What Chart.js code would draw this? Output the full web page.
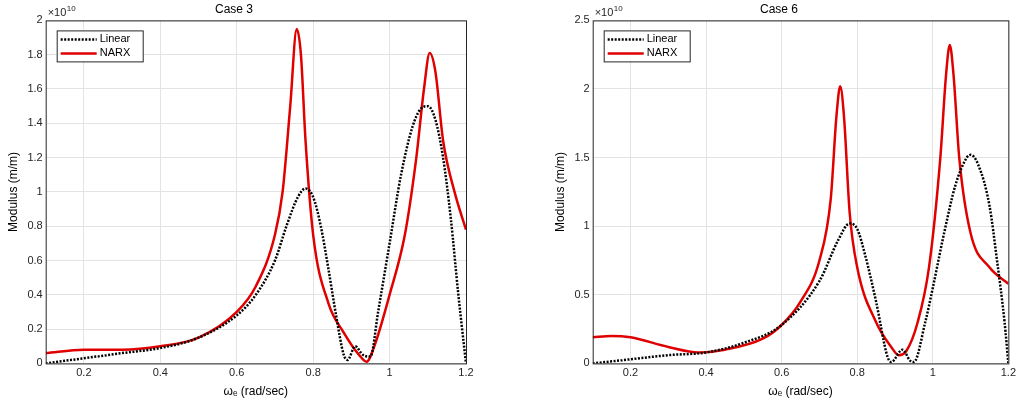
<!DOCTYPE html><html><head><script src="https://cdn.jsdelivr.net/npm/chart.js"></script>
<style>body{margin:0;background:#fff;width:1019px;height:413px;position:relative;overflow:hidden}
.c{position:absolute;top:0;height:413px}</style></head><body>
<div class="c" style="left:0;width:490px"><canvas id="a"></canvas></div>
<div class="c" style="left:540px;width:479px"><canvas id="b"></canvas></div>
<script>
const linear3=[[0.1,0],[0.2,0.03],[0.3,0.06],[0.4,0.09],[0.5,0.15],[0.6,0.28],[0.65,0.4],[0.7,0.6],[0.73,0.8],[0.76,0.97],[0.78,1.02],[0.8,0.97],[0.82,0.8],[0.84,0.55],[0.86,0.28],[0.88,0.05],[0.89,0.02],[0.91,0.1],[0.93,0.05],[0.95,0.04],[0.97,0.3],[1.0,0.7],[1.03,1.1],[1.06,1.38],[1.08,1.48],[1.1,1.5],[1.12,1.42],[1.14,1.2],[1.16,0.85],[1.18,0.4],[1.2,0]];
const narx3=[[0.1,0.06],[0.2,0.08],[0.3,0.08],[0.4,0.1],[0.5,0.15],[0.6,0.3],[0.65,0.45],[0.7,0.75],[0.72,1.0],[0.74,1.5],[0.757,1.95],[0.768,1.8],[0.78,1.3],[0.8,0.75],[0.84,0.35],[0.88,0.18],[0.92,0.05],[0.94,0.01],[0.96,0.1],[1.0,0.4],[1.04,0.75],[1.07,1.2],[1.09,1.6],[1.105,1.81],[1.12,1.7],[1.14,1.3],[1.17,1.0],[1.2,0.78]];
const linear6=[[0.1,0],[0.2,0.03],[0.3,0.06],[0.4,0.08],[0.5,0.15],[0.6,0.28],[0.7,0.6],[0.75,0.9],[0.78,1.02],[0.8,0.98],[0.82,0.8],[0.85,0.45],[0.88,0.05],[0.89,0.01],[0.92,0.1],[0.94,0.02],[0.95,0.01],[0.98,0.3],[1.0,0.55],[1.03,0.95],[1.06,1.3],[1.09,1.5],[1.1,1.52],[1.12,1.45],[1.15,1.15],[1.17,0.75],[1.19,0.3],[1.2,0]];
const narx6=[[0.1,0.19],[0.15,0.2],[0.2,0.19],[0.3,0.12],[0.38,0.08],[0.45,0.1],[0.55,0.18],[0.6,0.28],[0.65,0.45],[0.7,0.75],[0.73,1.2],[0.745,1.8],[0.755,2.02],[0.765,1.8],[0.78,1.1],[0.8,0.7],[0.85,0.3],[0.89,0.12],[0.91,0.06],[0.93,0.09],[0.96,0.3],[0.99,0.7],[1.02,1.5],[1.035,2.1],[1.045,2.32],[1.055,2.1],[1.07,1.5],[1.1,0.95],[1.15,0.7],[1.2,0.58]];
const xTicks=[0.2,0.4,0.6,0.8,1,1.2];
const F='Arial, "Liberation Sans", sans-serif';
const deco={id:'deco',afterDraw(c){const x=c.ctx,a=c.chartArea;x.save();
x.font='11px '+F;x.fillStyle='#262626';x.textBaseline='bottom';x.fillText('\u00d710',a.left+2,a.top-2);x.font='8px '+F;x.fillText('10',a.left+21,a.top-8);
const lx=a.left+11,ly=a.top+10;x.fillStyle='#fff';x.fillRect(lx,ly,86,31);x.strokeStyle='#262626';x.lineWidth=1;x.strokeRect(lx+.5,ly+.5,86,31);
x.lineWidth=2.5;x.strokeStyle='#000';x.setLineDash([2,1.5]);x.beginPath();x.moveTo(lx+4,ly+9);x.lineTo(lx+40,ly+9);x.stroke();
x.setLineDash([]);x.strokeStyle='#e00000';x.beginPath();x.moveTo(lx+4,ly+23);x.lineTo(lx+40,ly+23);x.stroke();
x.font='11px '+F;x.fillStyle='#000';x.textBaseline='middle';x.fillText('Linear',lx+43,ly+9);x.fillText('NARX',lx+43,ly+23);
x.strokeStyle='#262626';x.lineWidth=1;x.strokeRect(a.left+.5,a.top+.5,a.width,a.height);x.restore();}};
function mk(id,title,lin,nar,ymax,ystep,lpad,rpad){
new Chart(document.getElementById(id),{type:'line',plugins:[deco],
data:{datasets:[{data:lin.map(p=>({x:p[0],y:p[1]})),borderColor:'#000',borderWidth:2.5,borderDash:[2,1.5],pointRadius:0,cubicInterpolationMode:'monotone'},
{data:nar.map(p=>({x:p[0],y:p[1]})),borderColor:'#e00000',borderWidth:2.5,pointRadius:0,cubicInterpolationMode:'monotone'}]},
options:{responsive:false,animation:false,devicePixelRatio:1,layout:{padding:{left:lpad,right:rpad,top:2,bottom:10}},
plugins:{legend:{display:false},tooltip:{enabled:false},title:{display:true,text:title,color:'#000',font:{family:F,size:12,weight:'normal'},padding:{top:0,bottom:4}}},
scales:{x:{type:'linear',min:0.1,max:1.2,afterBuildTicks:ax=>{ax.ticks=xTicks.map(v=>({value:v}))},
ticks:{color:'#262626',font:{family:F,size:11},maxRotation:0,callback:v=>String(v)},grid:{color:'#e3e3e3',drawTicks:false,tickLength:4},border:{display:false},
title:{display:true,text:'\u03c9\u2091 (rad/sec)',color:'#000',font:{family:F,size:12},padding:{top:2}}},
y:{min:0,max:ymax,ticks:{stepSize:ystep,color:'#262626',font:{family:F,size:11},callback:v=>String(+v.toFixed(2))},grid:{color:'#e3e3e3',drawTicks:false},border:{display:false},
title:{display:true,text:'Modulus (m/m)',color:'#000',font:{family:F,size:12},padding:{bottom:4}}}}}});}
document.getElementById('a').width=490;document.getElementById('a').height=413;
document.getElementById('b').width=479;document.getElementById('b').height=413;
mk('a','Case 3',linear3,narx3,2,0.2,2,24);
mk('b','Case 6',linear6,narx6,2.5,0.5,9,10);
</script></body></html>
